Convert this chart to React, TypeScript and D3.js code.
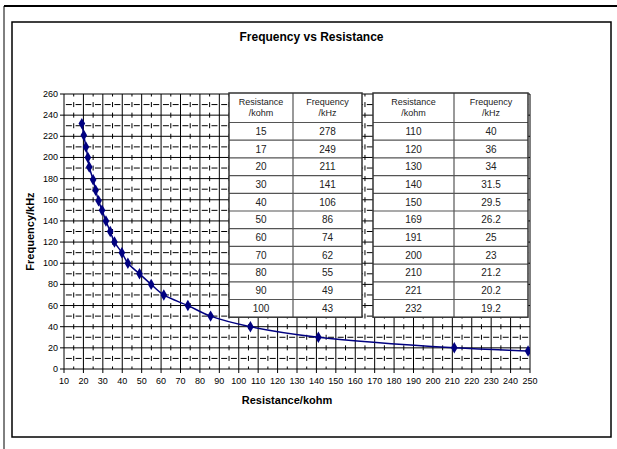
import React from "react";
import * as d3 from "d3";

const chartFreq = [19.2, 20.2, 21.3, 22.3, 23.0, 25.0, 26.3, 27.8, 29.6, 31.6, 33.8, 36, 39.8, 42.9, 48.9, 54.9, 61.4, 73.8, 85.5, 106, 141, 211, 249, 278];
const chartRes = [232, 221, 210, 200, 191, 179, 169, 159, 150, 140, 130, 120, 110, 100, 90, 80, 70, 60, 50, 40, 30, 20, 17, 15];

const table1Res = ["15", "17", "20", "30", "40", "50", "60", "70", "80", "90", "100"];
const table1Freq = ["278", "249", "211", "141", "106", "86", "74", "62", "55", "49", "43"];
const table2Res = ["110", "120", "130", "140", "150", "169", "191", "200", "210", "221", "232"];
const table2Freq = ["40", "36", "34", "31.5", "29.5", "26.2", "25", "23", "21.2", "20.2", "19.2"];

const xTicks = d3.range(10, 251, 10);
const yTicks = d3.range(0, 261, 20);
const xMinor = d3.range(15, 250, 10);
const yMinor = d3.range(10, 260, 20);

const title = "Frequency vs Resistance";
const xTitle = "Resistance/kohm";
const yTitle = "Frequency/kHz";

export default function App() {
  const W = 617, H = 449;
  const L = 64, R = 530, T = 94, B = 369;
  const x = d3.scaleLinear().domain([10, 250]).range([L, R]);
  const y = d3.scaleLinear().domain([0, 260]).range([B, T]);
  const pts = chartFreq.map((f, i) => [f, chartRes[i]] as [number, number]);
  const line = d3.line<[number, number]>().x(d => x(d[0])).y(d => y(d[1])).curve(d3.curveCatmullRom.alpha(0.5));
  const diamond = d3.symbol().type(d3.symbolDiamond).size(38)()!;
  const font = "Arial, 'Liberation Sans', sans-serif";
  const halfX = x(15) - x(10);
  const halfY = y(0) - y(10);
  const dashH = 6;

  const tables = [
    { x0: 229, xd: 293, x1: 362, res: table1Res, freq: table1Freq },
    { x0: 373, xd: 454, x1: 528, res: table2Res, freq: table2Freq },
  ];
  const tTop = 93, tHead = 122.5, rowH = 17.7;

  return (
    <svg width={W} height={H} style={{ position: "absolute", left: 0, top: 0, background: "#fff" }} fontFamily={font}>
      <defs>
        <clipPath id="plotclip"><rect x={L} y={T} width={R - L} height={B - T} /></clipPath>
      </defs>
      <rect x={0} y={0} width={W} height={H} fill="#fff" />
      <line x1={4} y1={6} x2={W} y2={6} stroke="#000" strokeWidth={2} />
      <line x1={4} y1={6} x2={4} y2={H} stroke="#000" strokeWidth={1} />
      <rect x={12} y={22} width={599} height={415} fill="#fff" stroke="#000" strokeWidth={1.5} />
      <text x={(12 + 611) / 2} y={41} textAnchor="middle" fontSize={12} fontWeight="bold">{title}</text>

      <g stroke="#000" strokeWidth={1}>
        {xMinor.map(v => (
          <line key={"xm" + v} x1={x(v)} x2={x(v)} y1={T} y2={B}
            strokeDasharray={`5,${halfY - 5}`} strokeDashoffset={2.5} />
        ))}
        {yMinor.map(v => (
          <line key={"ym" + v} x1={L} x2={R} y1={y(v)} y2={y(v)}
            strokeDasharray={`${dashH},${halfX - dashH}`} strokeDashoffset={-(halfX - dashH) / 2} />
        ))}
      </g>
      <g stroke="#000" strokeWidth={1}>
        {xTicks.map(v => <line key={"xg" + v} x1={x(v)} x2={x(v)} y1={T} y2={B} />)}
        {yTicks.map(v => <line key={"yg" + v} x1={L} x2={R} y1={y(v)} y2={y(v)} />)}
      </g>
      <g stroke="#000" strokeWidth={1}>
        {xTicks.map(v => <line key={"xt" + v} x1={x(v)} x2={x(v)} y1={B} y2={B + 4} />)}
        {yTicks.map(v => <line key={"yt" + v} x1={L - 4} x2={L} y1={y(v)} y2={y(v)} />)}
      </g>
      {xTicks.map(v => (
        <text key={"xl" + v} x={x(v)} y={B + 15} textAnchor="middle" fontSize={9}>{v}</text>
      ))}
      {yTicks.map(v => (
        <text key={"yl" + v} x={L - 6} y={y(v) + 3} textAnchor="end" fontSize={9}>{v}</text>
      ))}
      <text x={(L + R) / 2 - 10} y={404} textAnchor="middle" fontSize={11} fontWeight="bold">{xTitle}</text>
      <text transform={`translate(34,${(T + B) / 2}) rotate(-90)`} textAnchor="middle" fontSize={11} fontWeight="bold">{yTitle}</text>

      <g clipPath="url(#plotclip)">
        <path d={line(pts)!} fill="none" stroke="#000080" strokeWidth={1.5} />
        {pts.map((p, i) => (
          <path key={"m" + i} d={diamond} transform={`translate(${x(p[0])},${y(p[1])})`} fill="#000080" />
        ))}
      </g>

      {tables.map((t, ti) => (
        <g key={"t" + ti}>
          <rect x={t.x0} y={tTop} width={t.x1 - t.x0} height={tHead - tTop + rowH * t.res.length} fill="#fff" />
          <g stroke="#555" strokeWidth={1.2}>
            {d3.range(t.res.length).map(i => (
              <line key={"r" + i} x1={t.x0} x2={t.x1} y1={tHead + rowH * i} y2={tHead + rowH * i} />
            ))}
            <line x1={t.xd} x2={t.xd} y1={tTop} y2={tHead + rowH * t.res.length} />
          </g>
          <rect x={t.x0} y={tTop} width={t.x1 - t.x0} height={tHead - tTop + rowH * t.res.length} fill="none" stroke="#333" strokeWidth={1.5} />
          <g fontSize={9} fill="#222" textAnchor="middle">
            <text x={(t.x0 + t.xd) / 2} y={tTop + 12}>Resistance</text>
            <text x={(t.x0 + t.xd) / 2} y={tTop + 23}>/kohm</text>
            <text x={(t.xd + t.x1) / 2} y={tTop + 12}>Frequency</text>
            <text x={(t.xd + t.x1) / 2} y={tTop + 23}>/kHz</text>
          </g>
          <g fontSize={10} fill="#222" textAnchor="middle">
            {t.res.map((r, i) => (
              <text key={"c" + i} x={(t.x0 + t.xd) / 2} y={tHead + rowH * i + rowH / 2 + 3.5}>{r}</text>
            ))}
            {t.freq.map((f, i) => (
              <text key={"f" + i} x={(t.xd + t.x1) / 2} y={tHead + rowH * i + rowH / 2 + 3.5}>{f}</text>
            ))}
          </g>
        </g>
      ))}
    </svg>
  );
}
